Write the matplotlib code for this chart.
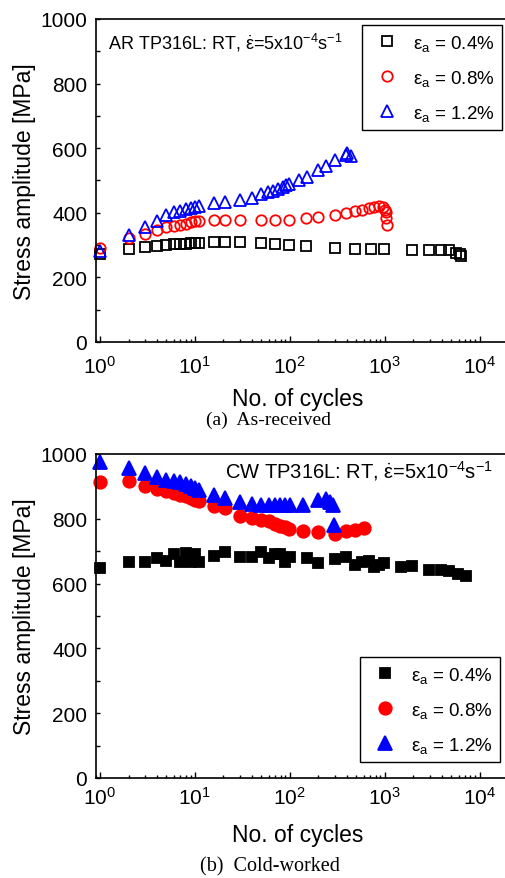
import numpy as np
import matplotlib.pyplot as plt
from matplotlib.ticker import MultipleLocator, LogLocator

plt.rcParams['font.family'] = ['Liberation Sans', 'DejaVu Sans']
plt.rcParams['mathtext.fontset'] = 'custom'
plt.rcParams['mathtext.rm'] = 'Liberation Sans'
plt.rcParams['mathtext.it'] = 'Liberation Sans'
plt.rcParams['mathtext.bf'] = 'Liberation Sans:bold'

# As-received, stress amplitude [MPa] vs. cycle number
ar_n_04 = [1, 2, 3, 4, 5, 6, 7, 8, 9, 10, 11, 16, 21, 30, 50, 70, 98, 147, 298, 491,
           722, 980, 1960, 2930, 3950, 4800, 5700, 6200, 6400]
ar_s_04 = [273, 289, 294, 297, 301, 302, 303, 304, 305, 305, 305, 309, 309, 309, 306, 303,
           301, 297, 292, 289, 287, 287, 284, 284, 286, 286, 276, 271, 266]

ar_n_08 = [1, 2, 3, 4, 5, 6, 7, 8, 9, 10, 11, 16, 21, 30, 50, 70, 98, 147, 198, 298,
           393, 491, 580, 680, 780, 880, 960, 1000, 1030, 1040, 1060]
ar_s_08 = [291, 322, 333, 348, 355, 359, 363, 366, 370, 373, 376, 379, 379, 379, 379, 379,
           379, 384, 387, 394, 400, 405, 409, 414, 418, 421, 418, 409, 402, 384, 361]

ar_n_12 = [1, 2, 3, 4, 5, 6, 7, 8, 9, 10, 11, 16, 21, 30, 40, 50, 59, 67, 75, 84,
           92, 98, 125, 150, 198, 243, 298, 390, 400, 445]
ar_s_12 = [281, 330, 356, 376, 392, 402, 407, 412, 415, 419, 421, 430, 433, 440, 446, 457,
           464, 468, 474, 479, 485, 488, 500, 512, 531, 546, 562, 580, 586, 577]

# Cold-worked
cw_n_04 = [1, 2, 3, 4, 5, 6, 7, 8, 9, 10, 11, 16, 21, 30, 40, 50, 60, 70, 78, 88,
           100, 150, 198, 298, 393, 491, 580, 680, 780, 880, 980, 1470, 1960, 2930,
           3950, 4800, 5900, 7200]
cw_s_04 = [649, 666, 666, 680, 670, 690, 668, 694, 668, 692, 668, 684, 697, 682, 682, 697,
           679, 692, 692, 666, 681, 678, 664, 676, 681, 656, 666, 671, 651, 658, 664, 652,
           654, 642, 642, 639, 630, 623]

cw_n_08 = [1, 2, 3, 4, 5, 6, 7, 8, 9, 10, 11, 16, 21, 30, 40, 50, 60, 70, 78, 88,
           98, 138, 198, 298, 393, 491, 600]
cw_s_08 = [913, 916, 902, 892, 885, 880, 874, 869, 864, 859, 855, 839, 834, 810, 803, 797,
           792, 784, 779, 776, 769, 762, 758, 753, 762, 764, 771]

cw_n_12 = [1, 2, 3, 4, 5, 6, 7, 8, 9, 10, 11, 16, 21, 30, 40, 50, 60, 70, 78, 88,
           100, 138, 198, 243, 265, 285, 290]
cw_s_12 = [974, 956, 940, 928, 921, 916, 912, 906, 901, 896, 890, 874, 863, 851, 845, 843,
           841, 841, 841, 841, 841, 843, 858, 861, 853, 843, 781]

strain_labels = [r'$\varepsilon_a$ = 0.4%', r'$\varepsilon_a$ = 0.8%', r'$\varepsilon_a$ = 1.2%']
colors = ['black', 'red', 'blue']
markers = ['s', 'o', '^']


def draw_panel(ax, series, filled, note, note_pos, note_size, legend_loc, legend_anchor,
               xpad, xlabel_y):
    sizes = [6.5, 7.5, 8.5] if not filled else [7.5, 9, 9.5]
    for (n, s), c, m, ms, lab in zip(series, colors, markers, sizes, strain_labels):
        ax.plot(n, s, ls='none', marker=m, ms=ms, mec=c,
                mfc=c if filled else 'none', mew=1.3, label=lab, clip_on=False)

    ax.set_xscale('log')
    ax.set_xlim(0.9, 2.2e4)
    ax.set_ylim(0, 1000)
    ax.xaxis.set_major_locator(LogLocator(base=10, numticks=10))
    ax.xaxis.set_minor_locator(LogLocator(base=10, subs=np.arange(2, 10), numticks=10))
    ax.yaxis.set_major_locator(MultipleLocator(200))
    ax.yaxis.set_minor_locator(MultipleLocator(100))
    ax.tick_params(which='both', direction='in', top=False, right=False, labelsize=15)
    ax.tick_params(axis='x', which='major', length=4, width=1, pad=xpad)
    ax.tick_params(axis='x', which='minor', length=2.5, width=1)
    ax.tick_params(axis='y', which='both', length=3, width=1, pad=6)
    for sp in ax.spines.values():
        sp.set_linewidth(1.2)

    ax.set_xlabel('No. of cycles', fontsize=16.5)
    ax.xaxis.set_label_coords(0.486, xlabel_y, transform=ax.transAxes)
    ax.set_ylabel('Stress amplitude [MPa]', fontsize=16.5, labelpad=3)
    ax.text(note_pos[0], note_pos[1], note, transform=ax.transAxes,
            fontsize=note_size, ha='left', va='baseline')

    leg = ax.legend(loc=legend_loc, bbox_to_anchor=legend_anchor, borderaxespad=0,
                    fontsize=13.5, numpoints=1, handlelength=1.8, handletextpad=0.5,
                    borderpad=0.4, labelspacing=0.8, fancybox=False, framealpha=1)
    leg.get_frame().set_edgecolor('black')
    leg.get_frame().set_linewidth(1.0)


fig = plt.figure(figsize=(5.06, 8.79), dpi=100)
ax1 = fig.add_axes([0.1889, 0.6098, 0.8233, 0.3675])
ax2 = fig.add_axes([0.1889, 0.1138, 0.8233, 0.3686])

draw_panel(ax1, [(ar_n_04, ar_s_04), (ar_n_08, ar_s_08), (ar_n_12, ar_s_12)], False,
           r'AR TP316L: RT, $\dot{\varepsilon}$=5x10$^{-4}$s$^{-1}$', (0.030, 0.907), 13,
           'upper right', (0.9755, 0.981), 9, -0.14)
draw_panel(ax2, [(cw_n_04, cw_s_04), (cw_n_08, cw_s_08), (cw_n_12, cw_s_12)], True,
           r'CW TP316L: RT, $\dot{\varepsilon}$=5x10$^{-4}$s$^{-1}$', (0.311, 0.929), 14.5,
           'lower right', (0.971, 0.049), 6, -0.138)

fig.text(268 / 506, 1 - 420 / 879, '(a)  As-received', family='Liberation Serif',
         fontsize=14, ha='center', va='center')
fig.text(270 / 506, 1 - 867 / 879, '(b)  Cold-worked', family='Liberation Serif',
         fontsize=14.5, ha='center', va='center')

fig.savefig('out.png', dpi=100)
